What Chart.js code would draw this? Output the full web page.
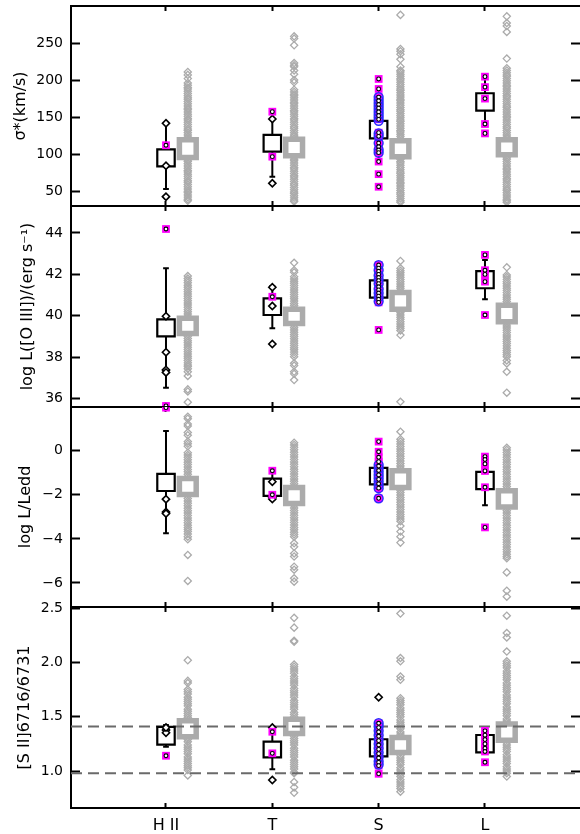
<!DOCTYPE html>
<html><head><meta charset="utf-8">
<script src="https://cdn.jsdelivr.net/npm/chart.js@4.4.1/dist/chart.umd.min.js"></script>
<style>
html,body{margin:0;padding:0;background:#fff;overflow:hidden;}
#wrap{position:relative;width:580px;height:834px;overflow:hidden;background:#fff;}
canvas{position:absolute;left:0;}
</style></head><body>
<div id="wrap">
<canvas id="c1" width="585" height="209" style="top:0px"></canvas>
<canvas id="c2" width="585" height="207" style="top:203px"></canvas>
<canvas id="c3" width="585" height="206" style="top:404px"></canvas>
<canvas id="c4" width="585" height="238" style="top:596px"></canvas>
</div>
<script>
// ---------------- DATA ----------------
const categories = ['H II', 'T', 'S', 'L'];
const catX = [1, 2, 3, 4];

// Panel 1: sigma* (km/s)
const sigmaTicks = [50, 100, 150, 200, 250];
const sigmaTickLabels = ['50', '100', '150', '200', '250'];
const sigmaBoxLo = [83.5, 103.4, 121.4, 158.7];
const sigmaBoxHi = [106.5, 125.9, 144.8, 182.2];
const sigmaWhLo = [53, 69.6, 89, 140.7];
const sigmaWhHi = [141.6, 158.3, 176, 204.6];
const sigmaPts = [[141.6, 84.4, 42.6], [147.5, 60.6], [], []];
const sigmaMag = [[112], [157.3, 96.6],
  [201.5, 188, 177, 172, 167, 162, 157, 152, 147, 129, 124, 115, 110, 105.6, 102, 90, 73, 56],
  [204.6, 190.5, 175, 140.7, 128]];
const sigmaBlue = [[], [], [177, 173, 169, 165, 161, 157, 153, 149, 145, 128, 124, 115, 106, 102], []];
const sigmaRefLo = [95.5, 97.8, 96.4, 99.1];
const sigmaRefHi = [119.3, 120.2, 118, 119.3];
const sigmaRefHII = [211, 207, 202, 196, 193, 190, 188, 185, 182, 179, 176, 174, 171, 168, 165, 162, 160, 157, 154, 151, 148, 146, 143, 140, 137, 134, 132, 129, 126, 123, 120, 118, 115, 112, 109, 106, 104, 101, 98, 95, 92, 90, 87, 84, 81, 78, 76, 73, 70, 67, 64, 62, 59, 56, 53, 50, 48, 45, 42, 39, 37];
const sigmaRefT = [259, 256, 247, 223, 220, 218, 213, 208, 200, 197, 187, 184, 181, 179, 176, 173, 170, 168, 165, 162, 159, 157, 154, 151, 148, 146, 143, 140, 137, 135, 132, 129, 126, 124, 121, 118, 115, 113, 110, 107, 104, 102, 99, 96, 93, 91, 88, 85, 82, 80, 77, 74, 71, 69, 66, 63, 60, 58, 55, 52, 49, 47, 44, 41, 38, 36];
const sigmaRefS = [288, 242, 239, 235, 228, 218, 213, 211, 208, 205, 202, 200, 197, 194, 191, 188, 186, 183, 180, 177, 174, 172, 169, 166, 163, 160, 158, 155, 152, 149, 146, 144, 141, 138, 135, 132, 130, 127, 124, 121, 118, 116, 113, 110, 107, 104, 102, 99, 96, 93, 90, 88, 85, 82, 79, 76, 74, 71, 68, 65, 62, 60, 57, 54, 51, 48, 46, 43, 40, 37, 35];
const sigmaRefL = [286, 277, 273, 265, 229, 216, 213, 210, 207, 205, 202, 199, 196, 193, 191, 188, 185, 182, 179, 177, 174, 171, 168, 165, 163, 160, 157, 154, 151, 149, 146, 143, 140, 137, 135, 132, 129, 126, 123, 121, 118, 115, 112, 109, 107, 104, 101, 98, 95, 93, 90, 87, 84, 81, 79, 76, 73, 70, 67, 65, 62, 59, 56, 53, 51, 48, 45, 42, 39, 37, 35];

// Panel 2: log L([O III])
const loiiiTicks = [36, 38, 40, 42, 44];
const loiiiTickLabels = ['36', '38', '40', '42', '44'];
const loiiiBoxLo = [39.01, 40.04, 40.88, 41.33];
const loiiiBoxHi = [39.83, 40.84, 41.71, 42.16];
const loiiiWhLo = [36.53, 39.4, 40.65, 40.8];
const loiiiWhHi = [42.29, 41.44, 42.45, 42.69];
const loiiiPts = [[39.98, 38.24, 37.39, 37.27], [41.38, 40.47, 38.64], [], []];
const loiiiMag = [[44.19, 35.65], [40.92],
  [42.45, 42.3, 42.15, 42.0, 41.85, 41.7, 41.55, 41.4, 41.25, 41.1, 40.95, 40.8, 40.65, 39.32],
  [42.94, 42.2, 42.0, 41.65, 40.04]];
const loiiiBlue = [[], [], [42.45, 42.2, 41.95, 41.75, 41.55, 41.3, 41.1, 40.9, 40.7], []];
const loiiiRefLo = [39.15, 39.63, 40.32, 39.72];
const loiiiRefHi = [39.88, 40.32, 41.13, 40.51];
const loiiiRefHII = [41.92, 41.8, 41.7, 41.6, 41.48, 41.38, 41.27, 41.16, 41.05, 40.95, 40.84, 40.73, 40.62, 40.52, 40.41, 40.3, 40.2, 40.09, 39.98, 39.87, 39.77, 39.66, 39.55, 39.45, 39.34, 39.23, 39.12, 39.02, 38.91, 38.8, 38.7, 38.59, 38.48, 38.38, 38.27, 38.16, 38.05, 37.95, 37.84, 37.73, 37.63, 37.55, 37.45, 37.3, 37.1, 36.45, 36.35, 35.83];
const loiiiRefT = [42.56, 42.2, 42.1, 41.89, 41.78, 41.67, 41.57, 41.46, 41.35, 41.25, 41.14, 41.03, 40.92, 40.82, 40.71, 40.6, 40.5, 40.39, 40.28, 40.18, 40.07, 39.96, 39.85, 39.75, 39.64, 39.53, 39.43, 39.32, 39.21, 39.1, 39.0, 38.89, 38.78, 38.68, 38.57, 38.46, 38.36, 38.25, 38.14, 38.03, 37.71, 37.6, 37.3, 37.2, 36.9];
const loiiiRefS = [42.65, 42.29, 42.18, 42.08, 41.97, 41.86, 41.75, 41.65, 41.54, 41.43, 41.33, 41.22, 41.11, 41.0, 40.9, 40.79, 40.68, 40.58, 40.47, 40.36, 40.25, 40.15, 40.04, 39.93, 39.83, 39.72, 39.61, 39.5, 39.4, 39.29, 39.07, 35.85];
const loiiiRefL = [42.34, 41.97, 41.87, 41.76, 41.65, 41.55, 41.44, 41.33, 41.23, 41.12, 41.01, 40.9, 40.8, 40.69, 40.58, 40.48, 40.37, 40.26, 40.16, 40.05, 39.94, 39.83, 39.73, 39.62, 39.51, 39.41, 39.3, 39.19, 39.08, 38.98, 38.87, 38.76, 38.66, 38.55, 38.44, 38.33, 38.23, 38.12, 38.03, 37.85, 37.7, 37.3, 36.29];

// Panel 3: log L/Ledd
const leddTicks = [-6, -4, -2, 0];
const leddTickLabels = ['\u22126', '\u22124', '\u22122', '0'];
const leddBoxLo = [-1.83, -2.05, -1.53, -1.74];
const leddBoxHi = [-1.05, -1.27, -0.78, -0.96];
const leddWhLo = [-3.75, -2.24, -1.7, -2.48];
const leddWhHi = [0.89, -0.88, -0.65, -0.2];
const leddPts = [[-2.2, -2.78, -2.85], [-1.41, -2.12, -2.19], [], []];
const leddMag = [[1.95], [-0.91, -2.0],
  [0.41, -0.05, -0.3, -0.5, -0.7, -0.9, -1.1, -1.3, -1.5, -1.7, -2.16],
  [-0.27, -0.4, -0.6, -0.92, -1.66, -3.48]];
const leddBlue = [[], [], [-0.65, -0.8, -0.95, -1.1, -1.25, -1.4, -1.55, -1.7, -2.16], []];
const leddRefLo = [-1.99, -2.4, -1.67, -2.55];
const leddRefHi = [-1.26, -1.67, -0.91, -1.82];
const leddRefHII = [1.54, 1.45, 1.21, 1.12, 0.82, 0.7, 0.41, 0.31, 0.2, -0.09, -0.2, -0.3, -0.41, -0.52, -0.63, -0.74, -0.85, -0.96, -1.07, -1.18, -1.29, -1.4, -1.51, -1.62, -1.73, -1.84, -1.95, -2.06, -2.17, -2.28, -2.39, -2.5, -2.61, -2.72, -2.83, -2.94, -3.05, -3.16, -3.27, -3.38, -3.49, -3.58, -3.67, -3.78, -3.9, -4.02, -4.73, -5.91];
const leddRefT = [0.36, 0.26, 0.15, 0.04, -0.07, -0.18, -0.29, -0.4, -0.51, -0.62, -0.73, -0.84, -0.95, -1.06, -1.17, -1.28, -1.39, -1.5, -1.61, -1.72, -1.83, -1.94, -2.05, -2.16, -2.27, -2.38, -2.49, -2.6, -2.71, -2.82, -2.93, -3.04, -3.15, -3.26, -3.37, -3.48, -3.59, -3.7, -3.8, -3.9, -4.2, -4.36, -4.66, -4.8, -5.26, -5.4, -5.79, -5.94];
const leddRefS = [0.86, 0.52, 0.41, 0.3, 0.19, 0.08, -0.03, -0.14, -0.25, -0.36, -0.47, -0.58, -0.69, -0.8, -0.91, -1.02, -1.13, -1.24, -1.35, -1.46, -1.57, -1.68, -1.79, -1.9, -2.01, -2.12, -2.23, -2.34, -2.45, -2.56, -2.67, -2.78, -2.89, -3.0, -3.1, -3.2, -3.42, -3.67, -3.9, -4.17];
const leddRefL = [0.13, 0.03, -0.08, -0.19, -0.3, -0.41, -0.52, -0.63, -0.74, -0.85, -0.96, -1.07, -1.18, -1.29, -1.4, -1.51, -1.62, -1.73, -1.84, -1.95, -2.06, -2.17, -2.28, -2.39, -2.5, -2.61, -2.72, -2.83, -2.94, -3.05, -3.16, -3.27, -3.38, -3.49, -3.6, -3.71, -3.82, -3.93, -4.04, -4.15, -4.26, -4.37, -4.48, -4.59, -4.7, -4.8, -4.88, -5.52, -6.35, -6.62];

// Panel 4: [S II]6716/6731
const siiTicks = [1.0, 1.5, 2.0, 2.5];
const siiTickLabels = ['1.0', '1.5', '2.0', '2.5'];
const siiRefLines = [1.41, 0.98];
const siiBoxLo = [1.243, 1.126, 1.136, 1.172];
const siiBoxHi = [1.406, 1.27, 1.293, 1.332];
const siiWhLo = [1.224, 1.016, 1.05, 1.18];
const siiWhHi = [1.424, 1.399, 1.44, 1.37];
const siiPts = [[1.378, 1.353, 1.40], [1.40, 0.918], [1.679], []];
const siiMag = [[1.141], [1.362, 1.163],
  [1.44, 1.4, 1.36, 1.32, 1.28, 1.24, 1.2, 1.16, 1.12, 1.08, 1.05, 0.975],
  [1.37, 1.33, 1.29, 1.25, 1.21, 1.18, 1.081]];
const siiBlue = [[], [], [1.44, 1.41, 1.37, 1.33, 1.29, 1.25, 1.21, 1.17, 1.13, 1.09, 1.06], []];
const siiRefLo = [1.315, 1.346, 1.171, 1.284];
const siiRefHi = [1.463, 1.477, 1.309, 1.432];
const siiRefHII = [2.02, 1.83, 1.81, 1.75, 1.73, 1.71, 1.68, 1.66, 1.64, 1.62, 1.6, 1.57, 1.55, 1.53, 1.51, 1.49, 1.46, 1.44, 1.42, 1.4, 1.38, 1.35, 1.33, 1.31, 1.29, 1.27, 1.24, 1.22, 1.2, 1.18, 1.16, 1.13, 1.11, 1.09, 1.07, 1.05, 1.03, 1.01, 0.96];
const siiRefT = [2.41, 2.32, 2.2, 2.19, 1.98, 1.96, 1.94, 1.92, 1.9, 1.87, 1.85, 1.83, 1.81, 1.79, 1.76, 1.74, 1.72, 1.7, 1.68, 1.65, 1.63, 1.61, 1.59, 1.57, 1.54, 1.52, 1.5, 1.48, 1.46, 1.43, 1.41, 1.39, 1.37, 1.35, 1.32, 1.3, 1.28, 1.26, 1.24, 1.21, 1.19, 1.17, 1.15, 1.13, 1.1, 1.08, 1.06, 1.04, 1.02, 0.99, 0.98, 0.9, 0.85, 0.8];
const siiRefS = [2.45, 2.04, 2.01, 1.87, 1.84, 1.67, 1.65, 1.63, 1.61, 1.58, 1.56, 1.54, 1.52, 1.5, 1.47, 1.45, 1.43, 1.41, 1.39, 1.36, 1.34, 1.32, 1.3, 1.28, 1.25, 1.23, 1.21, 1.19, 1.17, 1.14, 1.12, 1.1, 1.08, 1.06, 1.03, 1.01, 0.99, 0.97, 0.95, 0.92, 0.9, 0.88, 0.86, 0.84, 0.81];
const siiRefL = [2.43, 2.27, 2.23, 2.1, 2.01, 1.99, 1.97, 1.95, 1.92, 1.9, 1.88, 1.86, 1.84, 1.81, 1.79, 1.77, 1.75, 1.73, 1.7, 1.68, 1.66, 1.64, 1.62, 1.59, 1.57, 1.55, 1.53, 1.51, 1.48, 1.46, 1.44, 1.42, 1.4, 1.37, 1.35, 1.33, 1.31, 1.29, 1.26, 1.24, 1.22, 1.2, 1.18, 1.15, 1.13, 1.11, 1.09, 1.07, 1.04, 1.02, 1.0, 0.98, 0.95];

// ---------------- STYLE / LAYOUT ----------------
const FONT = 'DejaVu Sans';
const X_MIN = 0.1066, X_MAX = 4.903;
const REF_OFF = 0.205;     // comparison sample offset (x units)
const BOX_HW = 0.082;      // half width of black boxes (x units)
const REF_HW = 0.079;      // half width of gray boxes
const CAP_HW = 0.027;      // whisker cap half width
const GRAY = '#ababab';

function pts(arrs, off) {
  const out = [];
  arrs.forEach((a, i) => a.forEach(v => out.push({x: catX[i] + off, y: v})));
  return out;
}
function rect(cx, lo, hi, hw) {
  return [{x: cx - hw, y: lo}, {x: cx + hw, y: lo}, {x: cx + hw, y: hi}, {x: cx - hw, y: hi}, {x: cx - hw, y: lo}];
}
function whiskers(lo, hi) {
  const out = [];
  catX.forEach((cx, i) => {
    if (lo[i] == null) return;
    out.push({x: cx - CAP_HW, y: lo[i]}, {x: cx + CAP_HW, y: lo[i]}, {x: cx, y: null},
             {x: cx, y: lo[i]}, {x: cx, y: hi[i]}, {x: cx, y: null},
             {x: cx - CAP_HW, y: hi[i]}, {x: cx + CAP_HW, y: hi[i]}, {x: cx, y: null});
  });
  return out;
}
function noPad(s) { s.paddingTop = 0; s.paddingBottom = 0; s.paddingLeft = 0; s.paddingRight = 0; }

function makePanel(id, p) {
  const ds = [];
  ds.push({type: 'scatter', data: pts(p.ref, REF_OFF), pointStyle: 'rectRot', pointRadius: 3.6,
    borderColor: GRAY, backgroundColor: 'rgba(0,0,0,0)', borderWidth: 1.3, order: 100});
  catX.forEach((cx, i) => ds.push({type: 'line', data: rect(cx + REF_OFF, p.refLo[i], p.refHi[i], REF_HW),
    borderColor: GRAY, borderWidth: 5.5, backgroundColor: '#fff', fill: 'shape', pointRadius: 0,
    borderJoinStyle: 'miter', borderCapStyle: 'square', order: 90}));
  (p.hlines || []).forEach(v => ds.push({type: 'line', data: [{x: X_MIN, y: v}, {x: X_MAX, y: v}],
    borderColor: '#6a6a6a', borderWidth: 1.8, borderDash: [11, 6], pointRadius: 0, fill: false, order: 85}));
  ds.push({type: 'line', data: whiskers(p.whLo, p.whHi), borderColor: '#000', borderWidth: 2,
    pointRadius: 0, fill: false, spanGaps: false, order: 80});
  catX.forEach((cx, i) => ds.push({type: 'line', data: rect(cx, p.boxLo[i], p.boxHi[i], BOX_HW),
    borderColor: '#000', borderWidth: 2.2, backgroundColor: '#fff', fill: 'shape', pointRadius: 0,
    borderJoinStyle: 'miter', borderCapStyle: 'square', order: 70}));
  ds.push({type: 'scatter', data: pts(p.pts, 0), pointStyle: 'rectRot', pointRadius: 3.6,
    borderColor: '#000', backgroundColor: '#fff', borderWidth: 1.6, order: 60});
  ds.push({type: 'scatter', data: pts(p.mag, 0), pointStyle: 'rect', pointRadius: 5.5,
    borderColor: '#ff00ff', backgroundColor: '#ff00ff', borderWidth: 0, order: 50});
  ds.push({type: 'scatter', data: pts(p.blue, 0), pointStyle: 'circle', pointRadius: 4.4,
    borderColor: '#2a2aff', backgroundColor: 'rgba(0,0,0,0)', borderWidth: 1.5, order: 45});
  ds.push({type: 'scatter', data: pts(p.mag, 0), pointStyle: 'circle', pointRadius: 1.9,
    borderColor: '#000', backgroundColor: '#fff', borderWidth: 1.1, order: 40});

  const tickSet = () => p.ticks.map(v => ({value: v}));
  const xTickSet = () => catX.map(v => ({value: v}));
  new Chart(document.getElementById(id), {
    type: 'scatter',
    data: {datasets: ds},
    options: {
      responsive: false, animation: false, devicePixelRatio: 1,
      layout: {autoPadding: false, padding: {left: 0, right: 4, top: p.padTop, bottom: p.padBottom}},
      plugins: {legend: {display: false}, tooltip: {enabled: false}},
      scales: {
        x: {type: 'linear', position: 'bottom', min: X_MIN, max: X_MAX,
          afterBuildTicks: s => { s.ticks = xTickSet(); },
          afterFit: s => { s.height = p.xHeight; noPad(s); },
          ticks: {display: p.showX, color: '#000', padding: 13, maxRotation: 0, font: {family: FONT, size: 16},
            callback: (v) => categories[catX.indexOf(v)]},
          grid: {drawOnChartArea: false, drawTicks: true, tickLength: -5, tickWidth: 2, tickColor: '#000'},
          border: {display: true, color: '#000', width: 2}},
        x2: {type: 'linear', position: 'top', min: X_MIN, max: X_MAX,
          afterBuildTicks: s => { s.ticks = xTickSet(); },
          afterFit: s => { s.height = 0; noPad(s); },
          ticks: {display: false},
          grid: {drawOnChartArea: false, drawTicks: true, tickLength: -5, tickWidth: 2, tickColor: '#000'},
          border: {display: true, color: '#000', width: 2}},
        y: {type: 'linear', position: 'left', min: p.min, max: p.max,
          afterBuildTicks: s => { s.ticks = tickSet(); },
          afterFit: s => { s.width = 71; noPad(s); },
          ticks: {color: '#000', padding: 17, font: {family: FONT, size: 14},
            callback: (v) => p.tickLabels[p.ticks.indexOf(v)]},
          grid: {drawOnChartArea: false, drawTicks: true, tickLength: -9, tickWidth: 2, tickColor: '#000'},
          border: {display: true, color: '#000', width: 2},
          title: {display: true, text: p.title, color: '#000', font: {family: FONT, size: 16},
            padding: {top: p.titlePad, bottom: 0}}},
        yR: {type: 'linear', position: 'right', min: p.min, max: p.max,
          afterBuildTicks: s => { s.ticks = tickSet(); },
          afterFit: s => { s.width = 0; noPad(s); },
          ticks: {display: false},
          grid: {drawOnChartArea: false, drawTicks: true, tickLength: -10, tickWidth: 2, tickColor: '#000'},
          border: {display: true, color: '#000', width: 2}}
      }
    }
  });
}

makePanel('c1', {min: 30, max: 300, ticks: sigmaTicks, tickLabels: sigmaTickLabels,
  title: 'σ*(km/s)', titlePad: 11, padTop: 6, padBottom: 3, xHeight: 0, showX: false,
  boxLo: sigmaBoxLo, boxHi: sigmaBoxHi, whLo: sigmaWhLo, whHi: sigmaWhHi,
  pts: sigmaPts, mag: sigmaMag, blue: sigmaBlue, refLo: sigmaRefLo, refHi: sigmaRefHi,
  ref: [sigmaRefHII, sigmaRefT, sigmaRefS, sigmaRefL]});
makePanel('c2', {min: 35.6, max: 45.3, ticks: loiiiTicks, tickLabels: loiiiTickLabels,
  title: 'log L([O III])/(erg s\u207B\u00B9)', titlePad: 18, padTop: 3, padBottom: 3, xHeight: 0, showX: false,
  boxLo: loiiiBoxLo, boxHi: loiiiBoxHi, whLo: loiiiWhLo, whHi: loiiiWhHi,
  pts: loiiiPts, mag: loiiiMag, blue: loiiiBlue, refLo: loiiiRefLo, refHi: loiiiRefHi,
  ref: [loiiiRefHII, loiiiRefT, loiiiRefS, loiiiRefL]});
makePanel('c3', {min: -7.09, max: 1.98, ticks: leddTicks, tickLabels: leddTickLabels,
  title: 'log L/Ledd', titlePad: 16, padTop: 3, padBottom: 3, xHeight: 0, showX: false,
  boxLo: leddBoxLo, boxHi: leddBoxHi, whLo: leddWhLo, whHi: leddWhHi,
  pts: leddPts, mag: leddMag, blue: leddBlue, refLo: leddRefLo, refHi: leddRefHi,
  ref: [leddRefHII, leddRefT, leddRefS, leddRefL]});
makePanel('c4', {min: 0.66, max: 2.51, ticks: siiTicks, tickLabels: siiTickLabels,
  title: '[S II]6716/6731', titlePad: 15, padTop: 11, padBottom: 0, xHeight: 26, showX: true,
  boxLo: siiBoxLo, boxHi: siiBoxHi, whLo: siiWhLo, whHi: siiWhHi,
  pts: siiPts, mag: siiMag, blue: siiBlue, refLo: siiRefLo, refHi: siiRefHi,
  ref: [siiRefHII, siiRefT, siiRefS, siiRefL], hlines: siiRefLines});
</script>
</body></html>
